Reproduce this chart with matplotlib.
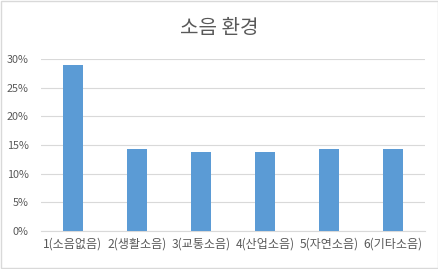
import matplotlib
matplotlib.use('Agg')
import matplotlib.pyplot as plt
from matplotlib.ticker import PercentFormatter

plt.rcParams['font.family'] = ['Noto Sans CJK KR', 'DejaVu Sans']

categories = ['1(소음없음)', '2(생활소음)', '3(교통소음)', '4(산업소음)', '5(자연소음)', '6(기타소음)']
values = [0.29, 0.143, 0.138, 0.138, 0.143, 0.143]

fig = plt.figure(figsize=(4.39, 2.69), dpi=100)
ax = fig.add_axes([0.0934, 0.1413, 0.8746, 0.6394])

x = range(len(categories))
ax.bar(x, values, width=0.31, color='#5B9BD5', zorder=3)

ax.set_xlim(-0.5, len(categories) - 0.5)
ax.set_ylim(0, 0.30)
ax.set_yticks([0, 0.05, 0.10, 0.15, 0.20, 0.25, 0.30])
ax.yaxis.set_major_formatter(PercentFormatter(1.0, decimals=0))
ax.set_xticks(list(x))
ax.set_xticklabels(categories)
ax.tick_params(axis='both', length=0, colors='#595959')
ax.tick_params(axis='y', labelsize=7.8, pad=9)
ax.tick_params(axis='x', labelsize=8.7, pad=5)
ax.grid(axis='y', color='#D9D9D9', linewidth=0.8, zorder=0)
for side in ['top', 'right', 'left']:
    ax.spines[side].set_visible(False)
ax.spines['bottom'].set_color('#D9D9D9')

fig.text(0.5, 0.893, '소음 환경', ha='center', va='center', fontsize=14.5, color='#595959')

fig.patches.append(plt.Rectangle((0.002, 0.002), 0.996, 0.996, transform=fig.transFigure,
                                 fill=False, edgecolor='#D9D9D9', linewidth=1))

fig.savefig('out.png', dpi=100)
